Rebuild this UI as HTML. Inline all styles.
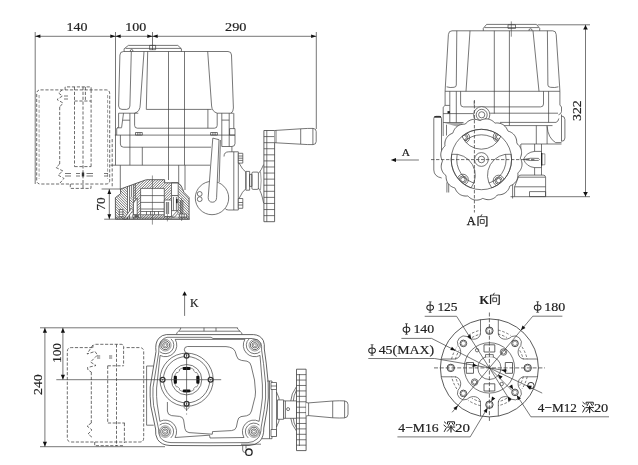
<!DOCTYPE html>
<html><head><meta charset="utf-8"><title>Drawing</title>
<style>html,body{margin:0;padding:0;background:#fff;}body{width:638px;height:465px;overflow:hidden;font-family:"Liberation Serif",serif;}svg{display:block}</style>
</head><body>
<svg style="filter:grayscale(1)" width="638" height="465" viewBox="0 0 638 465" fill="none" stroke="#3c3c3c" stroke-width="0.7" stroke-linecap="butt" stroke-linejoin="round">
<line x1="35.2" y1="32" x2="35.2" y2="184"/>
<line x1="115.5" y1="32" x2="115.5" y2="135.1"/>
<line x1="152.5" y1="32" x2="152.5" y2="50"/>
<line x1="316.3" y1="32" x2="316.3" y2="129"/>
<line x1="35.2" y1="36.3" x2="316.3" y2="36.3"/>
<path d="M35.2 36.3 L40.4 34.6 L40.4 38Z" fill="#111" stroke="none"/>
<path d="M115.5 36.3 L110.3 38 L110.3 34.6Z" fill="#111" stroke="none"/>
<path d="M115.5 36.3 L120.7 34.6 L120.7 38Z" fill="#111" stroke="none"/>
<path d="M152.5 36.3 L147.3 38 L147.3 34.6Z" fill="#111" stroke="none"/>
<path d="M152.5 36.3 L157.7 34.6 L157.7 38Z" fill="#111" stroke="none"/>
<path d="M316.3 36.3 L311.1 38 L311.1 34.6Z" fill="#111" stroke="none"/>
<text stroke="#222" stroke-width="0.18" x="77.1" y="31" font-family="'Liberation Serif',serif" font-size="13.5" text-anchor="middle" letter-spacing="0" font-weight="normal" fill="#222" textLength="21" lengthAdjust="spacingAndGlyphs">140</text>
<text stroke="#222" stroke-width="0.18" x="135.8" y="31" font-family="'Liberation Serif',serif" font-size="13.5" text-anchor="middle" letter-spacing="0" font-weight="normal" fill="#222" textLength="21" lengthAdjust="spacingAndGlyphs">100</text>
<text stroke="#222" stroke-width="0.18" x="235.7" y="31.1" font-family="'Liberation Serif',serif" font-size="13.5" text-anchor="middle" letter-spacing="0" font-weight="normal" fill="#222" textLength="21.4" lengthAdjust="spacingAndGlyphs">290</text>
<line x1="101.6" y1="189" x2="120.5" y2="189"/>
<line x1="104.2" y1="219.2" x2="190" y2="219.2"/>
<line x1="109.3" y1="189" x2="109.3" y2="219.2"/>
<path d="M109.3 189.2 L111.2 194 L107.4 194Z" fill="#111" stroke="none"/>
<path d="M109.3 219.1 L107.4 214.3 L111.2 214.3Z" fill="#111" stroke="none"/>
<text stroke="#222" stroke-width="0.18" x="104.7" y="203.9" font-family="'Liberation Serif',serif" font-size="13.5" text-anchor="middle" letter-spacing="0" font-weight="normal" fill="#222" transform="rotate(-90 104.7 203.9)" textLength="13.2" lengthAdjust="spacingAndGlyphs">70</text>
<g stroke-dasharray="3.2 1.7" stroke-width="0.75">
<path d="M40.5 89.9 H106 Q109.7 89.9 109.7 93.6 V180.3 Q109.7 184 106 184 H40.5 Q36.7 184 36.7 180.3 V93.6 Q36.7 89.9 40.5 89.9Z"/>
<line x1="39.1" y1="95" x2="39.1" y2="179" stroke-width="0.5"/>
<line x1="107.6" y1="95" x2="107.6" y2="179" stroke-width="0.5"/>
<path d="M65.1 89.9 V86.9 H91.1 V89.9"/>
<line x1="59.7" y1="107" x2="59.7" y2="164"/>
<line x1="74.5" y1="86.9" x2="74.5" y2="166.6"/>
<line x1="83" y1="86.9" x2="83" y2="188.4"/>
<line x1="85.4" y1="86.9" x2="85.4" y2="100"/>
<line x1="91.1" y1="89.9" x2="91.1" y2="166.6"/>
<path d="M74.5 101 H91.1"/>
<path d="M74.5 166.6 H91.1"/>
<path d="M70.3 184 V188.4 H91 V184"/>
<path d="M62 90 L58.5 93 L62.5 96 L57 99.5 L63 103 L59.7 107"/>
<path d="M59.7 164 L56 167.5 L63 171 L58 175 L64 178.5 L60 183"/>
<line x1="112.2" y1="139" x2="112.2" y2="188"/>
</g>
<line x1="64" y1="96" x2="68" y2="96"/>
<line x1="64" y1="99" x2="68" y2="99"/>
<line x1="65" y1="173.5" x2="71" y2="173.5"/>
<line x1="65" y1="176" x2="71" y2="176"/>
<rect x="81.8" y="172.5" width="2.4" height="4" fill="#333" stroke="none"/>
<line x1="76" y1="173.5" x2="80" y2="173.5"/>
<line x1="76" y1="176" x2="80" y2="176"/>
<line x1="86.5" y1="173.5" x2="93" y2="173.5"/>
<line x1="86.5" y1="176" x2="93" y2="176"/>
<line x1="104" y1="173.5" x2="108" y2="173.5"/>
<line x1="104" y1="176" x2="108" y2="176"/>
<path d="M124.1 51.5 L124.1 48.8 L128.4 45.4 L177.8 45.4 L181.4 48.8 L181.4 51.5"/>
<line x1="125.5" y1="48.4" x2="181.2" y2="48.4"/>
<rect x="149.6" y="45.4" width="6" height="4.3"/>
<path d="M130.4 51.5 V50 Q131.6 48.7 132.8 50 V51.5"/>
<path d="M118.6 106 L119.9 55 Q120 51.5 123.5 51.5 H228 Q231.4 51.5 231.5 55 L233.4 108 Q233.4 111.6 231 113.2"/>
<line x1="131.3" y1="51.5" x2="129.9" y2="106"/>
<line x1="144" y1="51.5" x2="140.3" y2="104"/>
<line x1="147.7" y1="51.5" x2="146.3" y2="109.4"/>
<line x1="168.5" y1="51.5" x2="168.5" y2="180"/>
<line x1="184.5" y1="51.5" x2="184.5" y2="165.2"/>
<line x1="207.7" y1="51.5" x2="211.6" y2="106"/>
<path d="M146.3 109.4 H211.6"/>
<path d="M118.6 106 Q118.8 109.4 122 109.4 H126.5 Q129.9 109.4 129.9 106"/>
<path d="M140.3 104 Q140.3 111.8 134.6 113.2"/>
<path d="M211.6 106 Q212 111.5 217.2 113.2 H233.4"/>
<line x1="118.6" y1="113.2" x2="138.3" y2="113.2"/>
<path d="M134.6 113.2 V125.4 Q134.6 128.2 137.4 128.2 H214.4 Q217.2 128.2 217.2 125.4 V113.2"/>
<path d="M118.6 113.2 V127.3 L116.7 128.4 V135.1"/>
<line x1="123.5" y1="113.2" x2="121.6" y2="127.6"/>
<line x1="117.2" y1="127.8" x2="121.6" y2="127.8"/>
<line x1="122.8" y1="120.2" x2="129.9" y2="120.2"/>
<line x1="129.9" y1="113.2" x2="129.9" y2="165.2"/>
<path d="M233.8 113.2 V128.6"/>
<path d="M221.8 113.2 V146.5"/>
<path d="M229.2 113.2 V146.5"/>
<path d="M221.8 120.1 H229.2"/>
<rect x="229.6" y="128.6" width="5.4" height="6.5"/>
<path d="M207.9 109.4 V128.2"/>
<rect x="135.5" y="132.5" width="6.8" height="2.6"/>
<line x1="137.8" y1="132.5" x2="137.8" y2="135.1"/>
<line x1="140" y1="132.5" x2="140" y2="135.1"/>
<rect x="210.6" y="132.5" width="6.8" height="2.6"/>
<line x1="212.9" y1="132.5" x2="212.9" y2="135.1"/>
<line x1="215.1" y1="132.5" x2="215.1" y2="135.1"/>
<line x1="114.8" y1="135.1" x2="235" y2="135.1"/>
<path d="M115.5 135.1 V165.2"/>
<path d="M120.4 135.1 V144 Q120.4 147.2 123.6 147.2 H211"/>
<path d="M235 135.1 V143.5 Q235 146.5 231.9 146.5 H221.8"/>
<line x1="142.3" y1="147.2" x2="142.3" y2="165.2"/>
<line x1="110.5" y1="165.2" x2="210" y2="165.2"/>
<line x1="120.3" y1="165.2" x2="120.3" y2="189.5"/>
<line x1="178.7" y1="165.2" x2="178.7" y2="183"/>
<line x1="185" y1="165.2" x2="185" y2="190"/>
<clipPath id="cs1"><path d="M115.4 219.1 V197.6 L120.6 193.8 V189 L145.2 180.1 L146.5 179.7 H164.6 V182.8 H177.5 Q181 183.6 183.9 192.3 L189.1 197.6 V219.1 Z"/></clipPath>
<clipPath id="csA"><path d="M115 230 V170 H127.5 V230Z M178.2 170 H190 V230 H178.2Z M129.6 197.3 H132.8 V213 H129.6Z"/></clipPath>
<clipPath id="csB"><path d="M133.4 170 H171.5 V230 H133.4Z"/></clipPath>
<g clip-path="url(#cs1)">
<g clip-path="url(#csA)" stroke-width="0.75" stroke="#454545">
<line x1="22" y1="170" x2="82" y2="230"/>
<line x1="24.6" y1="170" x2="84.6" y2="230"/>
<line x1="27.2" y1="170" x2="87.2" y2="230"/>
<line x1="29.8" y1="170" x2="89.8" y2="230"/>
<line x1="32.4" y1="170" x2="92.4" y2="230"/>
<line x1="35" y1="170" x2="95" y2="230"/>
<line x1="37.6" y1="170" x2="97.6" y2="230"/>
<line x1="40.2" y1="170" x2="100.2" y2="230"/>
<line x1="42.8" y1="170" x2="102.8" y2="230"/>
<line x1="45.4" y1="170" x2="105.4" y2="230"/>
<line x1="48" y1="170" x2="108" y2="230"/>
<line x1="50.6" y1="170" x2="110.6" y2="230"/>
<line x1="53.2" y1="170" x2="113.2" y2="230"/>
<line x1="55.8" y1="170" x2="115.8" y2="230"/>
<line x1="58.4" y1="170" x2="118.4" y2="230"/>
<line x1="61" y1="170" x2="121" y2="230"/>
<line x1="63.6" y1="170" x2="123.6" y2="230"/>
<line x1="66.2" y1="170" x2="126.2" y2="230"/>
<line x1="68.8" y1="170" x2="128.8" y2="230"/>
<line x1="71.4" y1="170" x2="131.4" y2="230"/>
<line x1="74" y1="170" x2="134" y2="230"/>
<line x1="76.6" y1="170" x2="136.6" y2="230"/>
<line x1="79.2" y1="170" x2="139.2" y2="230"/>
<line x1="81.8" y1="170" x2="141.8" y2="230"/>
<line x1="84.4" y1="170" x2="144.4" y2="230"/>
<line x1="87" y1="170" x2="147" y2="230"/>
<line x1="89.6" y1="170" x2="149.6" y2="230"/>
<line x1="92.2" y1="170" x2="152.2" y2="230"/>
<line x1="94.8" y1="170" x2="154.8" y2="230"/>
<line x1="97.4" y1="170" x2="157.4" y2="230"/>
<line x1="100" y1="170" x2="160" y2="230"/>
<line x1="102.6" y1="170" x2="162.6" y2="230"/>
<line x1="105.2" y1="170" x2="165.2" y2="230"/>
<line x1="107.8" y1="170" x2="167.8" y2="230"/>
<line x1="110.4" y1="170" x2="170.4" y2="230"/>
<line x1="113" y1="170" x2="173" y2="230"/>
<line x1="115.6" y1="170" x2="175.6" y2="230"/>
<line x1="118.2" y1="170" x2="178.2" y2="230"/>
<line x1="120.8" y1="170" x2="180.8" y2="230"/>
<line x1="123.4" y1="170" x2="183.4" y2="230"/>
<line x1="126" y1="170" x2="186" y2="230"/>
<line x1="128.6" y1="170" x2="188.6" y2="230"/>
<line x1="131.2" y1="170" x2="191.2" y2="230"/>
<line x1="133.8" y1="170" x2="193.8" y2="230"/>
<line x1="136.4" y1="170" x2="196.4" y2="230"/>
<line x1="139" y1="170" x2="199" y2="230"/>
<line x1="141.6" y1="170" x2="201.6" y2="230"/>
<line x1="144.2" y1="170" x2="204.2" y2="230"/>
<line x1="146.8" y1="170" x2="206.8" y2="230"/>
<line x1="149.4" y1="170" x2="209.4" y2="230"/>
<line x1="152" y1="170" x2="212" y2="230"/>
<line x1="154.6" y1="170" x2="214.6" y2="230"/>
<line x1="157.2" y1="170" x2="217.2" y2="230"/>
<line x1="159.8" y1="170" x2="219.8" y2="230"/>
<line x1="162.4" y1="170" x2="222.4" y2="230"/>
<line x1="165" y1="170" x2="225" y2="230"/>
<line x1="167.6" y1="170" x2="227.6" y2="230"/>
<line x1="170.2" y1="170" x2="230.2" y2="230"/>
<line x1="172.8" y1="170" x2="232.8" y2="230"/>
<line x1="175.4" y1="170" x2="235.4" y2="230"/>
<line x1="178" y1="170" x2="238" y2="230"/>
<line x1="180.6" y1="170" x2="240.6" y2="230"/>
<line x1="183.2" y1="170" x2="243.2" y2="230"/>
<line x1="185.8" y1="170" x2="245.8" y2="230"/>
<line x1="188.4" y1="170" x2="248.4" y2="230"/>
<line x1="191" y1="170" x2="251" y2="230"/>
<line x1="193.6" y1="170" x2="253.6" y2="230"/>
<line x1="196.2" y1="170" x2="256.2" y2="230"/>
<line x1="198.8" y1="170" x2="258.8" y2="230"/>
<line x1="201.4" y1="170" x2="261.4" y2="230"/>
<line x1="204" y1="170" x2="264" y2="230"/>
<line x1="206.6" y1="170" x2="266.6" y2="230"/>
<line x1="209.2" y1="170" x2="269.2" y2="230"/>
<line x1="211.8" y1="170" x2="271.8" y2="230"/>
<line x1="214.4" y1="170" x2="274.4" y2="230"/>
<line x1="217" y1="170" x2="277" y2="230"/>
<line x1="219.6" y1="170" x2="279.6" y2="230"/>
<line x1="222.2" y1="170" x2="282.2" y2="230"/>
<line x1="224.8" y1="170" x2="284.8" y2="230"/>
<line x1="227.4" y1="170" x2="287.4" y2="230"/>
<line x1="230" y1="170" x2="290" y2="230"/>
<line x1="232.6" y1="170" x2="292.6" y2="230"/>
<line x1="235.2" y1="170" x2="295.2" y2="230"/>
<line x1="237.8" y1="170" x2="297.8" y2="230"/>
<line x1="240.4" y1="170" x2="300.4" y2="230"/>
<line x1="243" y1="170" x2="303" y2="230"/>
<line x1="245.6" y1="170" x2="305.6" y2="230"/>
<line x1="248.2" y1="170" x2="308.2" y2="230"/>
<line x1="250.8" y1="170" x2="310.8" y2="230"/>
<line x1="253.4" y1="170" x2="313.4" y2="230"/>
</g>
<g clip-path="url(#csB)" stroke-width="0.75" stroke="#454545">
<line x1="22" y1="230" x2="82" y2="170"/>
<line x1="24.6" y1="230" x2="84.6" y2="170"/>
<line x1="27.2" y1="230" x2="87.2" y2="170"/>
<line x1="29.8" y1="230" x2="89.8" y2="170"/>
<line x1="32.4" y1="230" x2="92.4" y2="170"/>
<line x1="35" y1="230" x2="95" y2="170"/>
<line x1="37.6" y1="230" x2="97.6" y2="170"/>
<line x1="40.2" y1="230" x2="100.2" y2="170"/>
<line x1="42.8" y1="230" x2="102.8" y2="170"/>
<line x1="45.4" y1="230" x2="105.4" y2="170"/>
<line x1="48" y1="230" x2="108" y2="170"/>
<line x1="50.6" y1="230" x2="110.6" y2="170"/>
<line x1="53.2" y1="230" x2="113.2" y2="170"/>
<line x1="55.8" y1="230" x2="115.8" y2="170"/>
<line x1="58.4" y1="230" x2="118.4" y2="170"/>
<line x1="61" y1="230" x2="121" y2="170"/>
<line x1="63.6" y1="230" x2="123.6" y2="170"/>
<line x1="66.2" y1="230" x2="126.2" y2="170"/>
<line x1="68.8" y1="230" x2="128.8" y2="170"/>
<line x1="71.4" y1="230" x2="131.4" y2="170"/>
<line x1="74" y1="230" x2="134" y2="170"/>
<line x1="76.6" y1="230" x2="136.6" y2="170"/>
<line x1="79.2" y1="230" x2="139.2" y2="170"/>
<line x1="81.8" y1="230" x2="141.8" y2="170"/>
<line x1="84.4" y1="230" x2="144.4" y2="170"/>
<line x1="87" y1="230" x2="147" y2="170"/>
<line x1="89.6" y1="230" x2="149.6" y2="170"/>
<line x1="92.2" y1="230" x2="152.2" y2="170"/>
<line x1="94.8" y1="230" x2="154.8" y2="170"/>
<line x1="97.4" y1="230" x2="157.4" y2="170"/>
<line x1="100" y1="230" x2="160" y2="170"/>
<line x1="102.6" y1="230" x2="162.6" y2="170"/>
<line x1="105.2" y1="230" x2="165.2" y2="170"/>
<line x1="107.8" y1="230" x2="167.8" y2="170"/>
<line x1="110.4" y1="230" x2="170.4" y2="170"/>
<line x1="113" y1="230" x2="173" y2="170"/>
<line x1="115.6" y1="230" x2="175.6" y2="170"/>
<line x1="118.2" y1="230" x2="178.2" y2="170"/>
<line x1="120.8" y1="230" x2="180.8" y2="170"/>
<line x1="123.4" y1="230" x2="183.4" y2="170"/>
<line x1="126" y1="230" x2="186" y2="170"/>
<line x1="128.6" y1="230" x2="188.6" y2="170"/>
<line x1="131.2" y1="230" x2="191.2" y2="170"/>
<line x1="133.8" y1="230" x2="193.8" y2="170"/>
<line x1="136.4" y1="230" x2="196.4" y2="170"/>
<line x1="139" y1="230" x2="199" y2="170"/>
<line x1="141.6" y1="230" x2="201.6" y2="170"/>
<line x1="144.2" y1="230" x2="204.2" y2="170"/>
<line x1="146.8" y1="230" x2="206.8" y2="170"/>
<line x1="149.4" y1="230" x2="209.4" y2="170"/>
<line x1="152" y1="230" x2="212" y2="170"/>
<line x1="154.6" y1="230" x2="214.6" y2="170"/>
<line x1="157.2" y1="230" x2="217.2" y2="170"/>
<line x1="159.8" y1="230" x2="219.8" y2="170"/>
<line x1="162.4" y1="230" x2="222.4" y2="170"/>
<line x1="165" y1="230" x2="225" y2="170"/>
<line x1="167.6" y1="230" x2="227.6" y2="170"/>
<line x1="170.2" y1="230" x2="230.2" y2="170"/>
<line x1="172.8" y1="230" x2="232.8" y2="170"/>
<line x1="175.4" y1="230" x2="235.4" y2="170"/>
<line x1="178" y1="230" x2="238" y2="170"/>
<line x1="180.6" y1="230" x2="240.6" y2="170"/>
<line x1="183.2" y1="230" x2="243.2" y2="170"/>
<line x1="185.8" y1="230" x2="245.8" y2="170"/>
<line x1="188.4" y1="230" x2="248.4" y2="170"/>
<line x1="191" y1="230" x2="251" y2="170"/>
<line x1="193.6" y1="230" x2="253.6" y2="170"/>
<line x1="196.2" y1="230" x2="256.2" y2="170"/>
<line x1="198.8" y1="230" x2="258.8" y2="170"/>
<line x1="201.4" y1="230" x2="261.4" y2="170"/>
<line x1="204" y1="230" x2="264" y2="170"/>
<line x1="206.6" y1="230" x2="266.6" y2="170"/>
<line x1="209.2" y1="230" x2="269.2" y2="170"/>
<line x1="211.8" y1="230" x2="271.8" y2="170"/>
<line x1="214.4" y1="230" x2="274.4" y2="170"/>
<line x1="217" y1="230" x2="277" y2="170"/>
<line x1="219.6" y1="230" x2="279.6" y2="170"/>
<line x1="222.2" y1="230" x2="282.2" y2="170"/>
<line x1="224.8" y1="230" x2="284.8" y2="170"/>
<line x1="227.4" y1="230" x2="287.4" y2="170"/>
<line x1="230" y1="230" x2="290" y2="170"/>
<line x1="232.6" y1="230" x2="292.6" y2="170"/>
<line x1="235.2" y1="230" x2="295.2" y2="170"/>
<line x1="237.8" y1="230" x2="297.8" y2="170"/>
<line x1="240.4" y1="230" x2="300.4" y2="170"/>
<line x1="243" y1="230" x2="303" y2="170"/>
<line x1="245.6" y1="230" x2="305.6" y2="170"/>
<line x1="248.2" y1="230" x2="308.2" y2="170"/>
<line x1="250.8" y1="230" x2="310.8" y2="170"/>
<line x1="253.4" y1="230" x2="313.4" y2="170"/>
</g>
</g>
<line x1="127.5" y1="186.5" x2="127.5" y2="219.1"/>
<line x1="129.5" y1="185.8" x2="129.5" y2="219.1"/>
<line x1="131.4" y1="185.1" x2="131.4" y2="197.3"/>
<line x1="133.4" y1="184.4" x2="133.4" y2="219.1"/>
<rect x="140.6" y="188.4" width="23.7" height="26.4" fill="#fff"/>
<line x1="140.6" y1="195.6" x2="164.3" y2="195.6"/>
<line x1="140.6" y1="202.4" x2="164.3" y2="202.4"/>
<line x1="140.6" y1="209" x2="164.3" y2="209"/>
<line x1="146.5" y1="211.5" x2="146.5" y2="214.8"/>
<line x1="150.5" y1="211.5" x2="150.5" y2="214.8"/>
<line x1="154.5" y1="211.5" x2="154.5" y2="214.8"/>
<line x1="158.5" y1="211.5" x2="158.5" y2="214.8"/>
<line x1="140.6" y1="211.5" x2="164.3" y2="211.5"/>
<path d="M133.4 203 L137.2 198 L137.2 214.8 L133.4 214.8Z" fill="#fff"/>
<line x1="135.3" y1="183.7" x2="135.3" y2="199"/>
<rect x="171.5" y="182.8" width="6.7" height="12.8" fill="#fff"/>
<path d="M164.3 200 L171.5 200 L171.5 216.5 L164.3 216.5Z" fill="#fff"/>
<line x1="166.4" y1="202" x2="166.4" y2="214"/>
<line x1="168.6" y1="202" x2="168.6" y2="214"/>
<line x1="167.4" y1="202" x2="167.4" y2="221.4" stroke-width="0.5"/>
<rect x="171.5" y="195.6" width="6.7" height="15" fill="#fff"/>
<line x1="173.4" y1="197" x2="173.4" y2="210.5"/>
<line x1="176.4" y1="197" x2="176.4" y2="210.5"/>
<rect x="176" y="199" width="1.6" height="4.2" fill="#222" stroke="none"/>
<line x1="181.6" y1="198" x2="181.6" y2="221" stroke-width="0.5"/>
<line x1="180.4" y1="200" x2="180.4" y2="214"/>
<line x1="182.8" y1="200" x2="182.8" y2="214"/>
<rect x="119.3" y="209.5" width="3.6" height="7.2" fill="#fff"/>
<line x1="119.3" y1="212" x2="122.9" y2="212"/>
<line x1="119.3" y1="214.4" x2="122.9" y2="214.4"/>
<rect x="179.6" y="214" width="7" height="3.2" fill="#fff"/>
<line x1="181.8" y1="214" x2="181.8" y2="217.2"/>
<line x1="184.2" y1="214" x2="184.2" y2="217.2"/>
<path d="M123.5 219.1 L131.5 208.5 L133.4 210 L126.3 219.1Z" fill="#fff"/>
<path d="M171.5 217.2 L177.5 210.6 L178.2 213 L174.5 217.2Z" fill="#fff"/>
<line x1="115.4" y1="217.2" x2="189.1" y2="217.2" stroke-width="0.5"/>
<rect x="132.8" y="214.8" width="7.8" height="2.5" fill="#fff"/>
<rect x="134.4" y="215.3" width="4.4" height="1.5" fill="#333" stroke="none"/>
<path d="M115.4 219.1 V197.6 L120.6 193.8 V189 L145.2 180.1 L146.5 179.7 H164.6 V182.8 H177.5 Q181 183.6 183.9 192.3 L189.1 197.6 V219.1 Z" stroke-width="0.8"/>
<line x1="152.4" y1="175.5" x2="152.4" y2="224.6" stroke-width="0.55"/>
<path d="M224 156.5 Q224 151.8 228.8 151.8 H238.3 V210 H228.5 Q225.5 210 224.6 208"/>
<line x1="231.9" y1="146.5" x2="231.9" y2="151.8"/>
<line x1="233.8" y1="151.8" x2="233.8" y2="210"/>
<rect x="238.3" y="153.3" width="4.5" height="9.8" fill="#fff"/>
<line x1="238.3" y1="156" x2="242.8" y2="156"/>
<line x1="238.3" y1="158.2" x2="242.8" y2="158.2"/>
<line x1="238.3" y1="160.4" x2="242.8" y2="160.4"/>
<rect x="238.3" y="198.5" width="4.5" height="9.8" fill="#fff"/>
<line x1="238.3" y1="202.5" x2="242.8" y2="202.5"/>
<line x1="238.3" y1="205" x2="242.8" y2="205"/>
<path d="M238.3 163.1 H239.1 Q242.5 170 245.9 172.1 V188.7 Q242.5 191 239.1 198.5"/>
<rect x="245.9" y="171.4" width="3.7" height="18.8"/>
<rect x="249.6" y="174.4" width="2.3" height="12"/>
<rect x="251.9" y="172.1" width="6.5" height="17.3" rx="1.2"/>
<path d="M258.4 173.5 Q261.5 170 263.6 164.6"/>
<path d="M258.4 188 Q261.5 192 263.6 203"/>
<path d="M260.5 171.5 Q261.8 180 260.5 190" stroke-width="0.5"/>
<circle cx="212" cy="198" r="16.7" fill="#fff"/>
<circle cx="199.7" cy="193.9" r="2.4"/>
<circle cx="199.7" cy="199.2" r="2.4"/>
<path d="M212.8 138.1 L219 139.7 L216.6 197.5 Q216.4 202.2 212.4 202.2 Q208.3 202.2 208.2 197.5 Z" fill="#fff"/>
<line x1="220.4" y1="140" x2="219.2" y2="182"/>
<rect x="263.9" y="130.5" width="10.7" height="91.2" fill="#fff" stroke-width="0.8"/>
<line x1="263.9" y1="136.58" x2="274.6" y2="136.58"/>
<line x1="263.9" y1="142.66" x2="274.6" y2="142.66"/>
<line x1="263.9" y1="148.74" x2="274.6" y2="148.74"/>
<line x1="263.9" y1="154.82" x2="274.6" y2="154.82"/>
<line x1="263.9" y1="160.9" x2="274.6" y2="160.9"/>
<line x1="263.9" y1="166.98" x2="274.6" y2="166.98"/>
<line x1="263.9" y1="173.06" x2="274.6" y2="173.06"/>
<line x1="263.9" y1="179.14" x2="274.6" y2="179.14"/>
<line x1="263.9" y1="185.22" x2="274.6" y2="185.22"/>
<line x1="263.9" y1="191.3" x2="274.6" y2="191.3"/>
<line x1="263.9" y1="197.38" x2="274.6" y2="197.38"/>
<line x1="263.9" y1="203.46" x2="274.6" y2="203.46"/>
<line x1="263.9" y1="209.54" x2="274.6" y2="209.54"/>
<line x1="263.9" y1="215.62" x2="274.6" y2="215.62"/>
<line x1="266.8" y1="130.5" x2="266.8" y2="221.7"/>
<path d="M274.6 130.6 L276 130.4 L300.7 128.8 Q308 128.3 313 128.4 Q316.2 128.5 316.2 131.5 V141.5 Q316.2 144.5 313 144.6 Q308 144.7 300.7 144.2 L276 142.8 L274.6 142.6" fill="#fff"/>
<line x1="276" y1="130.4" x2="276" y2="142.8"/>
<line x1="300.7" y1="128.8" x2="300.7" y2="144.2"/>
<line x1="312.9" y1="128.4" x2="312.9" y2="144.6"/>
<line x1="537.6" y1="24.8" x2="590" y2="24.8"/>
<line x1="545.6" y1="196.7" x2="590" y2="196.7"/>
<line x1="585.5" y1="24.8" x2="585.5" y2="196.7"/>
<path d="M585.5 24.9 L587.8 29.5 L583.2 29.5Z" fill="#111" stroke="none"/>
<path d="M585.5 196.6 L583.2 192 L587.8 192Z" fill="#111" stroke="none"/>
<text stroke="#222" stroke-width="0.18" x="580.9" y="110.6" font-family="'Liberation Serif',serif" font-size="13.5" text-anchor="middle" letter-spacing="0" font-weight="normal" fill="#222" transform="rotate(-90 580.9 110.6)" textLength="20.6" lengthAdjust="spacingAndGlyphs">322</text>
<path d="M483.3 30.8 L483.3 28.3 L486.6 24.4 L536.4 24.4 L539.7 28.3 L539.7 30.8"/>
<line x1="484.5" y1="27.6" x2="538.7" y2="27.6"/>
<rect x="508" y="24.8" width="7.5" height="3.6"/>
<path d="M529 30.8 V29.5 Q530.5 28 532 29.5 V30.8"/>
<path d="M445.1 91.3 L445.4 86 L448.4 34.5 Q448.7 30.8 452 30.8 H552.7 Q556 30.8 556.2 34.5 L559.6 86 L559.9 91.3"/>
<line x1="456.8" y1="30.8" x2="456.3" y2="85"/>
<path d="M456.3 85 Q456.4 87 454 87.3 Q450 88 446.6 86.8"/>
<line x1="470" y1="30.8" x2="466" y2="91.3"/>
<line x1="494.3" y1="30.8" x2="494.3" y2="113.5"/>
<line x1="511.3" y1="21.4" x2="511.3" y2="36.7" stroke-width="0.6"/>
<line x1="509.4" y1="30.8" x2="509.4" y2="125.6"/>
<line x1="533" y1="30.8" x2="539" y2="91.3"/>
<line x1="547.4" y1="30.8" x2="547.9" y2="85"/>
<path d="M547.9 85 Q547.8 87 550.5 87.3 Q555 88 558.4 86.8"/>
<line x1="445.1" y1="91.3" x2="559.9" y2="91.3"/>
<path d="M460.6 91.3 V104 Q460.6 106.9 463.5 106.9 H540.6 Q543.5 106.9 543.5 104 V91.3"/>
<path d="M445.1 91.3 V105.3 L443.2 107.2 V136"/>
<line x1="449.8" y1="91.3" x2="449.8" y2="122.5"/>
<line x1="456.3" y1="91.3" x2="456.3" y2="122.5"/>
<line x1="445.1" y1="105.4" x2="449.8" y2="105.4"/>
<rect x="447.5" y="111.1" width="2.4" height="2.4" fill="#222" stroke="none"/>
<line x1="474.2" y1="101" x2="474.2" y2="105.2" stroke-width="0.6"/>
<line x1="548.6" y1="91.3" x2="548.6" y2="122.4"/>
<path d="M559.9 91.3 V105 L561.5 107 V111.5 Q561.4 114 558.5 114.8"/>
<line x1="443.2" y1="113.6" x2="473.4" y2="113.6"/>
<line x1="490" y1="113.2" x2="558" y2="113.2"/>
<line x1="443.2" y1="122.5" x2="463.5" y2="122.5"/>
<line x1="500" y1="122.4" x2="556" y2="122.4"/>
<path d="M556 122.4 Q558.5 121.5 558.8 118.5"/>
<line x1="500" y1="125.6" x2="552.5" y2="125.6"/>
<line x1="446.5" y1="124.7" x2="446.5" y2="135.5"/>
<path d="M444.5 122.9 L463 122.9 L457.5 126.8Z" fill="#aaa" stroke="none"/>
<path d="M561.5 116 Q564.9 116.2 564.9 119.5 V138 Q564.9 141.3 561.5 141.3"/>
<line x1="561.5" y1="114.5" x2="561.5" y2="141.3"/>
<path d="M547.1 126.3 Q548 138 555.6 142.6 H561.5"/>
<line x1="536.3" y1="125.6" x2="536.3" y2="144"/>
<line x1="547.1" y1="125.6" x2="547.1" y2="144"/>
<line x1="521" y1="144" x2="561.5" y2="144"/>
<circle cx="481.7" cy="114.8" r="8.1" fill="#fff"/>
<circle cx="481.7" cy="114.8" r="5.5"/>
<circle cx="481.7" cy="114.8" r="3.1"/>
<path d="M433.8 170 V118.6 Q433.8 116.3 436 116.3 H439.3 Q441.5 116.3 441.5 118.6 V153"/>
<line x1="434.4" y1="116.9" x2="441" y2="116.9" stroke-width="1.5" stroke="#222"/>
<path d="M433.8 170 Q434 176.5 441.7 178"/>
<path d="M446.9 182.3 V192.5"/>
<path d="M448.7 183.5 V192.5"/>
<line x1="534.6" y1="144" x2="534.6" y2="175.1"/>
<line x1="541.5" y1="144" x2="541.5" y2="175.1"/>
<path d="M523.5 159.4 Q526.5 152.2 534.6 151.4 H541.5 V167.6 H534.6 Q526.5 166.8 523.5 159.4Z" fill="#fff"/>
<path d="M523.8 159.4 Q530 157.6 538.5 158.4 Q540.5 159.4 538.5 160.4 Q530 161.2 523.8 159.4Z"/>
<rect x="541.5" y="153.8" width="3.4" height="11" fill="#fff" stroke-width="0.5"/>
<line x1="541.7" y1="153.1" x2="541.7" y2="165.5" stroke-width="1.3" stroke="#222"/>
<path d="M514.6 196.6 V186.8 L518.6 176.5 Q519 175.1 521 175.1 H543.2 Q545.6 175.1 545.6 177.5 V196.6"/>
<line x1="518.5" y1="177.2" x2="545.6" y2="177.2"/>
<line x1="514.6" y1="186.8" x2="545.6" y2="186.8"/>
<rect x="529.5" y="191.6" width="16.1" height="5"/>
<line x1="512.6" y1="180.6" x2="512.6" y2="198.5"/>
<line x1="510.5" y1="196.7" x2="545.6" y2="196.7"/>
<line x1="520.8" y1="144" x2="520.8" y2="150"/>
<path d="M520.97 159.5 L521.41 160.62 L521.73 161.76 L521.93 162.92 L522.02 164.08 L521.98 165.23 L521.82 166.37 L521.53 167.48 L521.13 168.57 L520.61 169.61 L519.98 170.62 L519.25 171.56 L518.4 172.45 L517.83 173.41 L517.96 174.64 L517.93 175.85 L517.79 177.02 L517.54 178.17 L517.17 179.27 L516.7 180.32 L516.11 181.31 L515.42 182.23 L514.63 183.08 L513.75 183.85 L512.79 184.53 L511.75 185.13 L510.63 185.62 L509.73 186.29 L509.38 187.48 L508.9 188.58 L508.31 189.62 L507.64 190.58 L506.88 191.46 L506.04 192.24 L505.12 192.93 L504.13 193.52 L503.08 194 L501.97 194.38 L500.82 194.64 L499.63 194.79 L498.41 194.82 L497.33 195.09 L496.54 196.06 L495.67 196.89 L494.74 197.62 L493.75 198.25 L492.71 198.78 L491.64 199.18 L490.52 199.47 L489.38 199.63 L488.23 199.67 L487.06 199.6 L485.9 199.4 L484.74 199.09 L483.6 198.64 L482.49 198.48 L481.4 199.07 L480.28 199.51 L479.14 199.83 L477.98 200.03 L476.82 200.12 L475.67 200.08 L474.53 199.92 L473.42 199.63 L472.33 199.23 L471.29 198.71 L470.28 198.08 L469.34 197.35 L468.45 196.5 L467.49 195.93 L466.26 196.06 L465.05 196.03 L463.88 195.89 L462.73 195.64 L461.63 195.27 L460.58 194.8 L459.59 194.21 L458.67 193.52 L457.82 192.73 L457.05 191.85 L456.37 190.89 L455.77 189.85 L455.28 188.73 L454.61 187.83 L453.42 187.48 L452.32 187 L451.28 186.41 L450.32 185.74 L449.44 184.98 L448.66 184.14 L447.97 183.22 L447.38 182.23 L446.9 181.18 L446.52 180.07 L446.26 178.92 L446.11 177.73 L446.08 176.51 L445.81 175.43 L444.84 174.64 L444.01 173.77 L443.28 172.84 L442.65 171.85 L442.12 170.81 L441.72 169.74 L441.43 168.62 L441.27 167.48 L441.23 166.33 L441.3 165.16 L441.5 164 L441.81 162.84 L442.26 161.7 L442.42 160.59 L441.83 159.5 L441.39 158.38 L441.07 157.24 L440.87 156.08 L440.78 154.92 L440.82 153.77 L440.98 152.63 L441.27 151.52 L441.67 150.43 L442.19 149.39 L442.82 148.38 L443.55 147.44 L444.4 146.55 L444.97 145.59 L444.84 144.36 L444.87 143.15 L445.01 141.98 L445.26 140.83 L445.63 139.73 L446.1 138.68 L446.69 137.69 L447.38 136.77 L448.17 135.92 L449.05 135.15 L450.01 134.47 L451.05 133.87 L452.17 133.38 L453.07 132.71 L453.42 131.52 L453.9 130.42 L454.49 129.38 L455.16 128.42 L455.92 127.54 L456.76 126.76 L457.68 126.07 L458.67 125.48 L459.72 125 L460.83 124.62 L461.98 124.36 L463.17 124.21 L464.39 124.18 L465.47 123.91 L466.26 122.94 L467.13 122.11 L468.06 121.38 L469.05 120.75 L470.09 120.22 L471.16 119.82 L472.28 119.53 L473.42 119.37 L474.57 119.33 L475.74 119.4 L476.9 119.6 L478.06 119.91 L479.2 120.36 L480.31 120.52 L481.4 119.93 L482.52 119.49 L483.66 119.17 L484.82 118.97 L485.98 118.88 L487.13 118.92 L488.27 119.08 L489.38 119.37 L490.47 119.77 L491.51 120.29 L492.52 120.92 L493.46 121.65 L494.35 122.5 L495.31 123.07 L496.54 122.94 L497.75 122.97 L498.92 123.11 L500.07 123.36 L501.17 123.73 L502.22 124.2 L503.21 124.79 L504.13 125.48 L504.98 126.27 L505.75 127.15 L506.43 128.11 L507.03 129.15 L507.52 130.27 L508.19 131.17 L509.38 131.52 L510.48 132 L511.52 132.59 L512.48 133.26 L513.36 134.02 L514.14 134.86 L514.83 135.78 L515.42 136.77 L515.9 137.82 L516.28 138.93 L516.54 140.08 L516.69 141.27 L516.72 142.49 L516.99 143.57 L517.96 144.36 L518.79 145.23 L519.52 146.16 L520.15 147.15 L520.68 148.19 L521.08 149.26 L521.37 150.38 L521.53 151.52 L521.57 152.67 L521.5 153.84 L521.3 155 L520.99 156.16 L520.54 157.3 L520.38 158.41 L520.97 159.5Z" fill="#fff" stroke-width="0.8"/>
<circle cx="481.4" cy="159.5" r="30.2"/>
<clipPath id="wwin"><path d="M461.99 136.37 A30.2 30.2 0 0 1 500.81 136.37 A21.1 21.1 0 0 1 461.99 136.37Z M511.14 154.25 A30.2 30.2 0 0 1 491.73 187.88 A21.1 21.1 0 0 1 511.14 154.25Z M471.07 187.88 A30.2 30.2 0 0 1 451.66 154.25 A21.1 21.1 0 0 1 471.07 187.88Z"/></clipPath>
<g clip-path="url(#wwin)">
<circle cx="481.4" cy="159.5" r="24.7"/>
<circle cx="498.6" cy="136.9" r="5.4"/>
<circle cx="498.6" cy="136.9" r="3.6"/>
<circle cx="498.6" cy="136.9" r="2.2"/>
<circle cx="462.9" cy="179.6" r="5.4"/>
<circle cx="462.9" cy="179.6" r="3.6"/>
<circle cx="462.9" cy="179.6" r="2.2"/>
<circle cx="498.6" cy="180.6" r="5.4"/>
<circle cx="498.6" cy="180.6" r="3.6"/>
<circle cx="498.6" cy="180.6" r="2.2"/>
<circle cx="464.2" cy="137.5" r="5.4"/>
<circle cx="464.2" cy="137.5" r="3.6"/>
<circle cx="464.2" cy="137.5" r="2.2"/>
</g>
<path d="M461.99 136.37 A30.2 30.2 0 0 1 500.81 136.37 A21.1 21.1 0 0 1 461.99 136.37Z"/>
<path d="M511.14 154.25 A30.2 30.2 0 0 1 491.73 187.88 A21.1 21.1 0 0 1 511.14 154.25Z"/>
<path d="M471.07 187.88 A30.2 30.2 0 0 1 451.66 154.25 A21.1 21.1 0 0 1 471.07 187.88Z"/>
<circle cx="481.4" cy="159.5" r="6.9" fill="#fff"/>
<circle cx="481.4" cy="159.5" r="3.3"/>
<g stroke-dasharray="3.4 1.6" stroke-width="0.75">
<line x1="431" y1="159.6" x2="536" y2="159.6"/>
<line x1="474.4" y1="100" x2="474.4" y2="212.5"/>
</g>
<line x1="393" y1="160" x2="418.9" y2="160"/>
<path d="M390.8 160 L396 158.1 L396 161.9Z" fill="#111" stroke="none"/>
<text stroke="#222" stroke-width="0.18" x="401.8" y="155.6" font-family="'Liberation Serif',serif" font-size="11" text-anchor="start" letter-spacing="0" font-weight="normal" fill="#222" textLength="8.2" lengthAdjust="spacingAndGlyphs">A</text>
<text stroke="#222" stroke-width="0.35" x="466.7" y="224.9" font-family="'Liberation Serif',serif" font-size="12.7" text-anchor="start" letter-spacing="0" font-weight="normal" fill="#222" textLength="9" lengthAdjust="spacingAndGlyphs">A</text>
<g stroke="#222">
<line x1="482" y1="214.3" x2="480.6" y2="216.6" stroke-width="0.9"/>
<line x1="478" y1="216.5" x2="478" y2="225.9" stroke-width="1.25"/>
<line x1="478" y1="216.7" x2="487.1" y2="216.7" stroke-width="0.8"/>
<path d="M486.9 216.5 V225.9 L485.1 226.2" stroke-width="1.25"/>
<rect x="480.3" y="219.5" width="3.9" height="3.9" stroke-width="0.85"/>
</g>
<line x1="40" y1="327.8" x2="237.6" y2="327.8"/>
<line x1="40" y1="446.7" x2="165" y2="446.7"/>
<line x1="44.9" y1="327.8" x2="44.9" y2="446.7"/>
<path d="M44.9 328 L47 332.8 L42.8 332.8Z" fill="#111" stroke="none"/>
<path d="M44.9 446.5 L42.8 441.7 L47 441.7Z" fill="#111" stroke="none"/>
<line x1="62.9" y1="327.8" x2="62.9" y2="379.7"/>
<path d="M62.9 328 L65 332.8 L60.8 332.8Z" fill="#111" stroke="none"/>
<path d="M62.9 379.5 L60.8 374.7 L65 374.7Z" fill="#111" stroke="none"/>
<text stroke="#222" stroke-width="0.18" x="60.9" y="353" font-family="'Liberation Serif',serif" font-size="13.5" text-anchor="middle" letter-spacing="0" font-weight="normal" fill="#222" transform="rotate(-90 60.9 353)" textLength="20.2" lengthAdjust="spacingAndGlyphs">100</text>
<text stroke="#222" stroke-width="0.18" x="42.1" y="384.6" font-family="'Liberation Serif',serif" font-size="13.5" text-anchor="middle" letter-spacing="0" font-weight="normal" fill="#222" transform="rotate(-90 42.1 384.6)" textLength="20.8" lengthAdjust="spacingAndGlyphs">240</text>
<line x1="184.6" y1="294" x2="184.6" y2="315.9"/>
<path d="M184.6 291.3 L186.9 295.6 L182.3 295.6Z" fill="#111" stroke="none"/>
<text stroke="#222" stroke-width="0.18" x="189.9" y="307" font-family="'Liberation Serif',serif" font-size="12" text-anchor="start" letter-spacing="0" font-weight="normal" fill="#222" textLength="8.6" lengthAdjust="spacingAndGlyphs">K</text>
<g stroke-dasharray="3.2 1.6" stroke-width="0.75">
<path d="M92.5 347.6 H71.3 Q67.3 347.6 67.3 351.6 V438 Q67.3 442 71.3 442 H139.7 Q143.7 442 143.7 438 V351.6 Q143.7 347.6 139.7 347.6 H124.8"/>
<path d="M92.9 347.6 V346.8 Q92.9 344.3 95.4 344.3 H121.1 Q123.6 344.3 123.6 346.8 V365.6"/>
<path d="M107.7 365.8 H123.6"/>
<line x1="91.3" y1="372" x2="91.3" y2="423"/>
<line x1="107.7" y1="365.8" x2="107.7" y2="423"/>
<line x1="116.5" y1="344.3" x2="116.5" y2="446"/>
<line x1="124.4" y1="423" x2="124.4" y2="443"/>
<path d="M94.7 442 V445.7 H124.4"/>
<path d="M107.9 423 H124.8"/>
<path d="M92.9 345 L87 354 L95 351.5 L97.5 355 L90.5 362 L96 365.5 L87.5 367.5 L88 370 L91.3 372"/>
<path d="M91.4 423 L87 426 L92 430 L88 434 L93 438"/>
<line x1="97" y1="356" x2="101" y2="356"/>
<line x1="97" y1="358" x2="101" y2="358"/>
<line x1="109" y1="356" x2="113" y2="356"/>
<line x1="109" y1="358" x2="113" y2="358"/>
</g>
<path d="M153.7 366 H146.6 V425.2 H153.7"/>
<path d="M176.5 334.4 L177 332.8 L180.6 329 L180.6 327.8"/>
<path d="M237.6 327.8 L237.6 329 L241.6 332.8 L242.1 334.4"/>
<line x1="179" y1="331.2" x2="240" y2="331.2"/>
<line x1="204" y1="327.8" x2="204" y2="331.2"/>
<line x1="216" y1="327.8" x2="216" y2="331.2"/>
<path d="M166.3 334.6 H253.5 Q260.5 335 263.3 340.5 Q264.8 344.5 264.3 349 L266.2 363 L268.2 383 L268.3 398 L267 410 L263.8 428 Q264 437 259.5 441.5 Q255.5 445.3 249 445.5 L209 445.7 L170 445.5 Q161.5 445.2 157.6 439.5 Q155 435 155.6 429 L150.8 406 Q149.8 396 150.2 387 L156 351.5 Q154.8 343 158.8 338.3 Q162 334.9 166.3 334.6Z" fill="#fff" stroke-width="0.8"/>
<path d="M167 337.3 H211 L213 338.5 H252.5 Q258.5 339 260.8 343 Q262 346 261.6 350 L263.5 363.5 L265.5 383 L265.6 398 L264.3 409.5 L261.2 427 Q261.2 435 257.3 438.8 Q253.5 442.5 248 442.6 L209 442.8 L171 442.6 Q164 442.3 160.5 437.8 Q158.2 434 158.6 429 L153.6 405.5 Q152.6 396 153 387.5 L158.8 352 Q157.8 345.5 161.2 341 Q164 337.7 167 337.3Z"/>
<circle cx="165.3" cy="345.2" r="5.8" stroke-width="0.5"/>
<circle cx="165.3" cy="345.2" r="4.4" stroke-width="0.8"/>
<circle cx="165.3" cy="345.2" r="2.7"/>
<circle cx="165.3" cy="345.2" r="1.4" stroke-width="0.5"/>
<path d="M175.16 339.28 A11.5 11.5 0 0 1 160.08 355.45"/>
<path d="M170.99 338.88 A8.5 8.5 0 0 1 159.84 351.71"/>
<circle cx="254.8" cy="345.2" r="5.8" stroke-width="0.5"/>
<circle cx="254.8" cy="345.2" r="4.4" stroke-width="0.8"/>
<circle cx="254.8" cy="345.2" r="2.7"/>
<circle cx="254.8" cy="345.2" r="1.4" stroke-width="0.5"/>
<path d="M260.02 355.45 A11.5 11.5 0 0 1 244.94 339.28"/>
<path d="M260.26 351.71 A8.5 8.5 0 0 1 249.11 338.88"/>
<circle cx="165.1" cy="431.6" r="5.8" stroke-width="0.5"/>
<circle cx="165.1" cy="431.6" r="4.4" stroke-width="0.8"/>
<circle cx="165.1" cy="431.6" r="2.7"/>
<circle cx="165.1" cy="431.6" r="1.4" stroke-width="0.5"/>
<path d="M159.88 421.35 A11.5 11.5 0 0 1 174.96 437.52"/>
<path d="M159.64 425.09 A8.5 8.5 0 0 1 170.79 437.92"/>
<circle cx="253.9" cy="431.6" r="5.8" stroke-width="0.5"/>
<circle cx="253.9" cy="431.6" r="4.4" stroke-width="0.8"/>
<circle cx="253.9" cy="431.6" r="2.7"/>
<circle cx="253.9" cy="431.6" r="1.4" stroke-width="0.5"/>
<path d="M244.04 437.52 A11.5 11.5 0 0 1 259.12 421.35"/>
<path d="M248.21 437.92 A8.5 8.5 0 0 1 259.36 425.09"/>
<line x1="175.2" y1="339.4" x2="244.9" y2="339.4"/>
<path d="M260 355.4 L262.4 385 L262.4 398 L261 409 L259.1 421.4"/>
<path d="M244 437.5 L210 438 L209.6 435.2 L175 437.5"/>
<path d="M160.1 355.4 L156.6 388 Q156.3 397 157.2 404 L159.9 421.4"/>
<path d="M186.7 355.6 L184.3 349.8 Q184.3 346.6 187.5 346.5 L226 346.6 Q233.5 347.2 235.2 351.5 L236.6 356 Q237.5 360 241.5 360.4 L247 361.2 Q250.5 362 251.2 366 L254.5 380 L255.5 392 Q255.5 397 254 401 L251.5 411 Q250.5 415.3 246.5 415.8 L241 416.6 Q238 417.4 237.6 421 L236.4 427 Q235.5 430.4 231.5 430.6 L212.5 431.6 L212.3 434.2 L189 432.6 Q185.4 432.2 184.9 428.6 L183.6 420 Q183 416.8 179.6 416.4 L171.5 415.6 Q167.6 415 167.4 411 V402"/>
<circle cx="186.6" cy="379.7" r="26.6" fill="#fff"/>
<circle cx="186.6" cy="379.7" r="23.2"/>
<circle cx="186.6" cy="379.7" r="15.2"/>
<path d="M199 379.7 L198.98 380.35 L198.93 381 L198.85 381.64 L198.73 382.28 L198.58 382.91 L198.39 383.53 L198.18 384.14 L197.93 384.74 L197.65 385.33 L197.34 385.9 L197 386.45 L196.63 386.99 L195.38 386.81 L195 387.26 L194.59 387.69 L194.16 388.1 L193.71 388.48 L193.89 389.73 L193.35 390.1 L192.8 390.44 L192.23 390.75 L191.64 391.03 L191.04 391.28 L190.43 391.49 L189.81 391.68 L189.18 391.83 L188.54 391.95 L187.9 392.03 L187.25 392.08 L186.6 392.1 L185.95 392.08 L185.3 392.03 L184.66 391.95 L184.02 391.83 L183.39 391.68 L182.77 391.49 L182.16 391.28 L181.56 391.03 L180.97 390.75 L180.4 390.44 L179.85 390.1 L179.31 389.73 L179.49 388.48 L179.04 388.1 L178.61 387.69 L178.2 387.26 L177.82 386.81 L176.57 386.99 L176.2 386.45 L175.86 385.9 L175.55 385.33 L175.27 384.74 L175.02 384.14 L174.81 383.53 L174.62 382.91 L174.47 382.28 L174.35 381.64 L174.27 381 L174.22 380.35 L174.2 379.7 L174.22 379.05 L174.27 378.4 L174.35 377.76 L174.47 377.12 L174.62 376.49 L174.81 375.87 L175.02 375.26 L175.27 374.66 L175.55 374.07 L175.86 373.5 L176.2 372.95 L176.57 372.41 L177.82 372.59 L178.2 372.14 L178.61 371.71 L179.04 371.3 L179.49 370.92 L179.31 369.67 L179.85 369.3 L180.4 368.96 L180.97 368.65 L181.56 368.37 L182.16 368.12 L182.77 367.91 L183.39 367.72 L184.02 367.57 L184.66 367.45 L185.3 367.37 L185.95 367.32 L186.6 367.3 L187.25 367.32 L187.9 367.37 L188.54 367.45 L189.18 367.57 L189.81 367.72 L190.43 367.91 L191.04 368.12 L191.64 368.37 L192.23 368.65 L192.8 368.96 L193.35 369.3 L193.89 369.67 L193.71 370.92 L194.16 371.3 L194.59 371.71 L195 372.14 L195.38 372.59 L196.63 372.41 L197 372.95 L197.34 373.5 L197.65 374.07 L197.93 374.66 L198.18 375.26 L198.39 375.87 L198.58 376.49 L198.73 377.12 L198.85 377.76 L198.93 378.4 L198.98 379.05 L199 379.7Z" stroke-width="0.6"/>
<circle cx="186.6" cy="355.7" r="2.4" fill="#fff" stroke-width="1.3" stroke="#333"/>
<circle cx="186.6" cy="355.7" r="0.7" fill="#555" stroke="none"/>
<circle cx="186.6" cy="403.7" r="2.4" fill="#fff" stroke-width="1.3" stroke="#333"/>
<circle cx="186.6" cy="403.7" r="0.7" fill="#555" stroke="none"/>
<circle cx="162.6" cy="379.7" r="2.4" fill="#fff" stroke-width="1.3" stroke="#333"/>
<circle cx="162.6" cy="379.7" r="0.7" fill="#555" stroke="none"/>
<circle cx="210.6" cy="379.7" r="2.4" fill="#fff" stroke-width="1.3" stroke="#333"/>
<circle cx="210.6" cy="379.7" r="0.7" fill="#555" stroke="none"/>
<path d="M184.2 403.7 V408 L186.6 409.6 L189 408 V403.7" stroke-width="0.5"/>
<rect x="182.7" y="367.1" width="7.8" height="2.9" rx="1" fill="#111" stroke="none"/>
<rect x="182.7" y="389.4" width="7.8" height="2.9" rx="1" fill="#111" stroke="none"/>
<rect x="173.8" y="375.7" width="3.1" height="8" rx="1" fill="#111" stroke="none"/>
<rect x="196.3" y="375.7" width="3.1" height="8" rx="1" fill="#111" stroke="none"/>
<line x1="186.6" y1="352.5" x2="186.6" y2="411"/>
<line x1="186.6" y1="413.5" x2="186.6" y2="414.5"/>
<line x1="56.3" y1="379.7" x2="221.2" y2="379.7"/>
<path d="M242.7 445.4 V450 Q242.7 452.5 245.3 452.5"/>
<path d="M246 445.4 V448.6"/>
<circle cx="248.9" cy="452.2" r="3.2" stroke-width="1.3" stroke="#222"/>
<line x1="241" y1="444.2" x2="261" y2="444.2"/>
<path d="M267.3 381 H272 V384 H276.5 V436 H272 V438.7 H262"/>
<line x1="272" y1="384" x2="272" y2="436"/>
<line x1="269.5" y1="381" x2="269.5" y2="438.7"/>
<rect x="271" y="382.5" width="5.5" height="7" fill="#fff"/>
<line x1="271" y1="386" x2="276.5" y2="386"/>
<rect x="271" y="429.5" width="5.5" height="7" fill="#fff"/>
<path d="M276.5 392 L279 398 V421 L276.5 427"/>
<rect x="277.5" y="399.9" width="6.1" height="19.4" fill="#fff"/>
<rect x="283.6" y="400.9" width="12.9" height="17.4" fill="#fff"/>
<line x1="285.4" y1="400.9" x2="285.4" y2="418.3"/>
<circle cx="288.1" cy="409.1" r="1.5"/>
<path d="M296.5 386.6 Q291 394 290.8 400.9"/>
<path d="M296.5 431 Q291 424 290.8 418.3"/>
<path d="M296.5 390 Q293.5 396 293.3 400.9"/>
<path d="M296.5 428 Q293.5 423 293.3 418.3"/>
<rect x="296.5" y="369.2" width="9.6" height="81.4" fill="#fff" stroke-width="0.8"/>
<line x1="296.5" y1="374.63" x2="306.1" y2="374.63"/>
<line x1="296.5" y1="380.05" x2="306.1" y2="380.05"/>
<line x1="296.5" y1="385.48" x2="306.1" y2="385.48"/>
<line x1="296.5" y1="390.91" x2="306.1" y2="390.91"/>
<line x1="296.5" y1="396.33" x2="306.1" y2="396.33"/>
<line x1="296.5" y1="401.76" x2="306.1" y2="401.76"/>
<line x1="296.5" y1="407.19" x2="306.1" y2="407.19"/>
<line x1="296.5" y1="412.61" x2="306.1" y2="412.61"/>
<line x1="296.5" y1="418.04" x2="306.1" y2="418.04"/>
<line x1="296.5" y1="423.47" x2="306.1" y2="423.47"/>
<line x1="296.5" y1="428.89" x2="306.1" y2="428.89"/>
<line x1="296.5" y1="434.32" x2="306.1" y2="434.32"/>
<line x1="296.5" y1="439.75" x2="306.1" y2="439.75"/>
<line x1="296.5" y1="445.17" x2="306.1" y2="445.17"/>
<line x1="299.4" y1="374" x2="299.4" y2="446"/>
<path d="M306.1 402.6 L308.6 402.9 L332.7 401 Q340 400.6 344.6 400.9 Q348 401.3 348 404.5 V414.3 Q348 417.5 344.6 417.9 Q340 418.2 332.7 417.8 L308.6 415.6 L306.1 415.9" fill="#fff"/>
<line x1="308.6" y1="402.9" x2="308.6" y2="415.6"/>
<line x1="332.7" y1="401" x2="332.7" y2="417.8"/>
<line x1="344.6" y1="400.9" x2="344.6" y2="417.9"/>
<circle cx="489.4" cy="367.9" r="49" stroke-width="0.85"/>
<g stroke-dasharray="2.6 1.7" stroke-width="0.7">
<path d="M498.13 330.09 A38.8 38.8 0 0 1 510.53 335.36"/>
<path d="M497.87 333.94 A35 35 0 0 1 506.9 337.59"/>
<path d="M521.94 346.77 A38.8 38.8 0 0 1 527.21 359.17"/>
<path d="M519.71 350.4 A35 35 0 0 1 523.36 359.43"/>
<path d="M527.21 376.63 A38.8 38.8 0 0 1 521.94 389.03"/>
<path d="M523.36 376.37 A35 35 0 0 1 519.71 385.4"/>
<path d="M510.53 400.44 A38.8 38.8 0 0 1 498.13 405.71"/>
<path d="M506.9 398.21 A35 35 0 0 1 497.87 401.86"/>
<path d="M480.67 405.71 A38.8 38.8 0 0 1 468.27 400.44"/>
<path d="M480.93 401.86 A35 35 0 0 1 471.9 398.21"/>
<path d="M456.86 389.03 A38.8 38.8 0 0 1 451.59 376.63"/>
<path d="M459.09 385.4 A35 35 0 0 1 455.44 376.37"/>
<path d="M451.59 359.17 A38.8 38.8 0 0 1 456.86 346.77"/>
<path d="M455.44 359.43 A35 35 0 0 1 459.09 350.4"/>
<path d="M468.27 335.36 A38.8 38.8 0 0 1 480.67 330.09"/>
<path d="M471.9 337.59 A35 35 0 0 1 480.93 333.94"/>
</g>
<path d="M498.3 319.72 L498.3 332.9 C498.3 339.4 506.9 341.4 511.7 336.5 A6.9 6.9 0 0 1 520.8 345.6 C515.9 350.4 517.9 359 524.4 359 L537.58 359 "/>
<path d="M537.58 376.8 L524.4 376.8 C517.9 376.8 515.9 385.4 520.8 390.2 A6.9 6.9 0 0 1 511.7 399.3 C506.9 394.4 498.3 396.4 498.3 402.9 L498.3 416.08 "/>
<path d="M480.5 416.08 L480.5 402.9 C480.5 396.4 471.9 394.4 467.1 399.3 A6.9 6.9 0 0 1 458 390.2 C462.9 385.4 460.9 376.8 454.4 376.8 L441.22 376.8 "/>
<path d="M441.22 359 L454.4 359 C460.9 359 462.9 350.4 458 345.6 A6.9 6.9 0 0 1 467.1 336.5 C471.9 341.4 480.5 339.4 480.5 332.9 L480.5 319.72 "/>
<circle cx="489.4" cy="367.9" r="25.2"/>
<circle cx="489.4" cy="367.9" r="11.6"/>
<rect x="485.5" y="354.6" width="7.8" height="2.6" fill="#fff"/>
<line x1="485.9" y1="357.2" x2="492.9" y2="357.2" stroke="#fff" stroke-width="1"/>
<path d="M484 344.8 L494.8 344.8 L494.8 352 L484 352Z" fill="#fff" stroke-width="0.8"/>
<path d="M512.5 362.5 L512.5 373.3 L505.3 373.3 L505.3 362.5Z" fill="#fff" stroke-width="0.8"/>
<path d="M494.8 391 L484 391 L484 383.8 L494.8 383.8Z" fill="#fff" stroke-width="0.8"/>
<path d="M466.3 373.3 L466.3 362.5 L473.5 362.5 L473.5 373.3Z" fill="#fff" stroke-width="0.8"/>
<circle cx="503.5" cy="352" r="3.3"/>
<circle cx="503.5" cy="352" r="2.1"/>
<circle cx="474.6" cy="382.1" r="3.3"/>
<circle cx="474.6" cy="382.1" r="2.1"/>
<circle cx="477.1" cy="350.2" r="1.7"/>
<circle cx="501.7" cy="384" r="1.7"/>
<circle cx="489.4" cy="330.7" r="3.7" fill="#fff" stroke-width="0.95"/>
<circle cx="489.4" cy="330.7" r="2.7" stroke-width="0.5"/>
<circle cx="489.4" cy="404.7" r="3.7" fill="#fff" stroke-width="0.95"/>
<circle cx="489.4" cy="404.7" r="2.7" stroke-width="0.5"/>
<circle cx="450.8" cy="367.9" r="3.7" fill="#fff" stroke-width="0.95"/>
<circle cx="450.8" cy="367.9" r="2.7" stroke-width="0.5"/>
<circle cx="527.7" cy="367.9" r="3.7" fill="#fff" stroke-width="0.95"/>
<circle cx="527.7" cy="367.9" r="2.7" stroke-width="0.5"/>
<circle cx="463.4" cy="343.4" r="3.3" fill="#fff" stroke-width="0.9"/>
<circle cx="463.4" cy="343.4" r="2.2" stroke-width="0.5"/>
<circle cx="515" cy="343.4" r="3.3" fill="#fff" stroke-width="0.9"/>
<circle cx="515" cy="343.4" r="2.2" stroke-width="0.5"/>
<circle cx="463.4" cy="393.4" r="3.3" fill="#fff" stroke-width="0.9"/>
<circle cx="463.4" cy="393.4" r="2.2" stroke-width="0.5"/>
<circle cx="515" cy="392.4" r="3.3" fill="#fff" stroke-width="0.9"/>
<circle cx="515" cy="392.4" r="2.2" stroke-width="0.5"/>
<circle cx="530.9" cy="385.6" r="3.2" fill="#fff" stroke-width="1"/>
<g stroke-dasharray="4 1.8" stroke-width="0.75">
<line x1="434" y1="367.9" x2="545" y2="367.9"/>
<line x1="489.4" y1="312.5" x2="489.4" y2="422.2"/>
</g>
<line x1="424.7" y1="316.3" x2="456.6" y2="316.3"/>
<line x1="456.6" y1="316.3" x2="507.48" y2="396.34"/>
<path d="M471.32 339.46 L467.14 336.43 L470.35 334.39Z" fill="#111" stroke="none"/>
<path d="M507.48 396.34 L511.66 399.37 L508.45 401.41Z" fill="#111" stroke="none"/>
<line x1="401.4" y1="338.4" x2="431.6" y2="338.4"/>
<line x1="431.6" y1="338.4" x2="489.4" y2="367.9"/>
<line x1="489.4" y1="367.9" x2="542.2" y2="393.1"/>
<path d="M455.38 350.53 L450.24 350.04 L451.96 346.66Z" fill="#111" stroke="none"/>
<path d="M526.4 385.6 L531.82 385.86 L530.01 389.65Z" fill="#111" stroke="none"/>
<line x1="489.4" y1="367.9" x2="512" y2="390.5"/>
<path d="M497.9 374.4 L502.64 376.45 L499.95 379.14Z" fill="#111" stroke="none"/>
<line x1="368.3" y1="358.5" x2="434.6" y2="358.5"/>
<line x1="434.6" y1="358.5" x2="507.24" y2="370.96"/>
<path d="M477.47 365.85 L472.42 366.92 L473.06 363.17Z" fill="#111" stroke="none"/>
<path d="M501.33 369.95 L506.38 368.88 L505.74 372.63Z" fill="#111" stroke="none"/>
<line x1="562.4" y1="316.2" x2="532.8" y2="316.2"/>
<line x1="532.8" y1="316.2" x2="452.11" y2="412.32"/>
<path d="M520.9 330.37 L522.54 325.47 L525.45 327.92Z" fill="#111" stroke="none"/>
<path d="M457.9 405.43 L456.26 410.33 L453.35 407.88Z" fill="#111" stroke="none"/>
<line x1="397.4" y1="436.9" x2="470.2" y2="436.9"/>
<line x1="470.2" y1="436.9" x2="487.3" y2="408.3"/>
<path d="M487.6 407.8 L486.77 412.9 L483.51 410.95Z" fill="#111" stroke="none"/>
<path d="M491.2 401.6 L492.03 396.5 L495.29 398.45Z" fill="#111" stroke="none"/>
<line x1="530.9" y1="416.8" x2="609" y2="416.8"/>
<line x1="530.9" y1="416.8" x2="517" y2="395.6"/>
<path d="M516.8 395.2 L521 398.21 L517.8 400.26Z" fill="#111" stroke="none"/>
<path d="M513.2 389.6 L509 386.59 L512.2 384.54Z" fill="#111" stroke="none"/>
<g stroke="#222">
<ellipse cx="430.15" cy="307.6" rx="3.35" ry="2.6" stroke-width="1.05"/>
<line x1="430.15" y1="301.8" x2="430.15" y2="312.4" stroke-width="0.95"/>
<line x1="428.7" y1="301.8" x2="431.6" y2="301.8" stroke-width="0.6"/>
<line x1="428.7" y1="312.4" x2="431.6" y2="312.4" stroke-width="0.6"/>
</g>
<text stroke="#222" stroke-width="0.18" x="437.4" y="311" font-family="'Liberation Serif',serif" font-size="13" text-anchor="start" letter-spacing="0" font-weight="normal" fill="#222" textLength="20.2" lengthAdjust="spacingAndGlyphs">125</text>
<g stroke="#222">
<ellipse cx="406.45" cy="329.5" rx="3.35" ry="2.6" stroke-width="1.05"/>
<line x1="406.45" y1="323.7" x2="406.45" y2="334.3" stroke-width="0.95"/>
<line x1="405" y1="323.7" x2="407.9" y2="323.7" stroke-width="0.6"/>
<line x1="405" y1="334.3" x2="407.9" y2="334.3" stroke-width="0.6"/>
</g>
<text stroke="#222" stroke-width="0.18" x="413.4" y="332.9" font-family="'Liberation Serif',serif" font-size="13" text-anchor="start" letter-spacing="0" font-weight="normal" fill="#222" textLength="20.8" lengthAdjust="spacingAndGlyphs">140</text>
<g stroke="#222">
<ellipse cx="372.05" cy="350.5" rx="3.35" ry="2.6" stroke-width="1.05"/>
<line x1="372.05" y1="344.7" x2="372.05" y2="355.3" stroke-width="0.95"/>
<line x1="370.6" y1="344.7" x2="373.5" y2="344.7" stroke-width="0.6"/>
<line x1="370.6" y1="355.3" x2="373.5" y2="355.3" stroke-width="0.6"/>
</g>
<text stroke="#222" stroke-width="0.18" x="378.7" y="353.9" font-family="'Liberation Serif',serif" font-size="13" text-anchor="start" letter-spacing="0" font-weight="normal" fill="#222" textLength="55.4" lengthAdjust="spacingAndGlyphs">45(MAX)</text>
<g stroke="#222">
<ellipse cx="537.65" cy="307.5" rx="3.35" ry="2.6" stroke-width="1.05"/>
<line x1="537.65" y1="301.7" x2="537.65" y2="312.3" stroke-width="0.95"/>
<line x1="536.2" y1="301.7" x2="539.1" y2="301.7" stroke-width="0.6"/>
<line x1="536.2" y1="312.3" x2="539.1" y2="312.3" stroke-width="0.6"/>
</g>
<text stroke="#222" stroke-width="0.18" x="544.2" y="310.9" font-family="'Liberation Serif',serif" font-size="13" text-anchor="start" letter-spacing="0" font-weight="normal" fill="#222" textLength="21" lengthAdjust="spacingAndGlyphs">180</text>
<text stroke="#222" stroke-width="0.18" x="398.3" y="431.9" font-family="'Liberation Serif',serif" font-size="13.5" text-anchor="start" letter-spacing="0" font-weight="normal" fill="#222" textLength="40.4" lengthAdjust="spacingAndGlyphs">4−M16</text>
<g stroke="#222" stroke-width="1" stroke-linecap="round">
<line x1="444.37" y1="421.92" x2="446.05" y2="423.38"/>
<line x1="443.92" y1="425.17" x2="445.6" y2="426.51"/>
<line x1="444.26" y1="431.55" x2="446.39" y2="427.74"/>
<path d="M447.51 423.94 V421.81 H454.56 V423.94"/>
<line x1="449.75" y1="422.93" x2="448.52" y2="425.39"/>
<line x1="452.21" y1="422.93" x2="453.78" y2="425.39"/>
<line x1="447.28" y1="427.07" x2="454.79" y2="427.07"/>
<line x1="450.98" y1="425.5" x2="450.98" y2="432" stroke-width="1.2"/>
<line x1="450.76" y1="427.41" x2="447.4" y2="431.22"/>
<line x1="451.2" y1="427.41" x2="454.79" y2="431.22"/>
</g>
<text stroke="#222" stroke-width="0.18" x="455" y="431.9" font-family="'Liberation Serif',serif" font-size="13.5" text-anchor="start" letter-spacing="0" font-weight="normal" fill="#222" textLength="15" lengthAdjust="spacingAndGlyphs">20</text>
<text stroke="#222" stroke-width="0.18" x="537.8" y="412.2" font-family="'Liberation Serif',serif" font-size="13.5" text-anchor="start" letter-spacing="0" font-weight="normal" fill="#222" textLength="39.2" lengthAdjust="spacingAndGlyphs">4−M12</text>
<g stroke="#222" stroke-width="1" stroke-linecap="round">
<line x1="582.88" y1="402.34" x2="584.59" y2="403.82"/>
<line x1="582.43" y1="405.65" x2="584.14" y2="407.01"/>
<line x1="582.77" y1="412.14" x2="584.94" y2="408.27"/>
<path d="M586.08 404.39 V402.23 H593.26 V404.39"/>
<line x1="588.36" y1="403.37" x2="587.1" y2="405.87"/>
<line x1="590.86" y1="403.37" x2="592.46" y2="405.87"/>
<line x1="585.85" y1="407.58" x2="593.49" y2="407.58"/>
<line x1="589.61" y1="405.99" x2="589.61" y2="412.6" stroke-width="1.2"/>
<line x1="589.38" y1="407.93" x2="585.96" y2="411.8"/>
<line x1="589.84" y1="407.93" x2="593.49" y2="411.8"/>
</g>
<text stroke="#222" stroke-width="0.18" x="593.9" y="412.2" font-family="'Liberation Serif',serif" font-size="13.5" text-anchor="start" letter-spacing="0" font-weight="normal" fill="#222" textLength="14.4" lengthAdjust="spacingAndGlyphs">20</text>
<text stroke="#222" stroke-width="0" x="479.3" y="304.1" font-family="'Liberation Serif',serif" font-size="13" text-anchor="start" letter-spacing="0" font-weight="bold" fill="#222" textLength="10" lengthAdjust="spacingAndGlyphs">K</text>
<g stroke="#222">
<line x1="494.46" y1="292.8" x2="493.1" y2="295.03" stroke-width="0.9"/>
<line x1="490.58" y1="294.94" x2="490.58" y2="304.06" stroke-width="1.25"/>
<line x1="490.58" y1="295.13" x2="499.41" y2="295.13" stroke-width="0.8"/>
<path d="M499.22 294.94 V304.06 L497.47 304.35" stroke-width="1.25"/>
<rect x="492.81" y="297.85" width="3.79" height="3.79" stroke-width="0.85"/>
</g>
</svg>
</body></html>
